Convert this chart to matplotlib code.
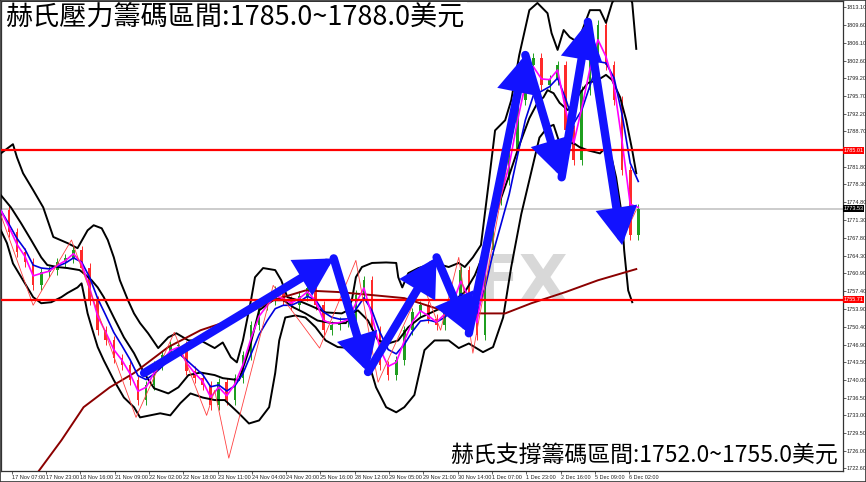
import matplotlib
matplotlib.use("Agg")
import matplotlib.pyplot as plt
import numpy as np
import pandas as pd
from matplotlib.transforms import blended_transform_factory

# ---------------- data ----------------
bars_per_candle = 4
closes = [1773.2, 1768.9, 1765.0, 1763.0, 1758.5, 1761.1, 1761.5, 1763.0, 1763.8, 1765.4,
          1761.9, 1755.6, 1749.7, 1747.7, 1744.2, 1742.8, 1739.9, 1736.0, 1738.9, 1742.8,
          1744.8, 1746.7, 1746.7, 1741.8, 1740.3, 1738.9, 1735.0, 1739.5, 1736.0, 1740.3,
          1744.8, 1750.7, 1754.6, 1755.6, 1757.5, 1755.6, 1754.6, 1756.4, 1757.9, 1754.6,
          1749.7, 1750.7, 1751.3, 1752.0, 1756.6, 1759.5, 1749.7, 1742.8, 1740.9, 1743.8,
          1749.7, 1753.2, 1754.6, 1752.0, 1750.7, 1753.6, 1756.0, 1761.5, 1754.6, 1748.7,
          1765.4, 1775.2, 1779.1, 1785.0, 1794.8, 1801.7, 1803.1, 1797.8, 1798.8, 1801.7,
          1789.0, 1783.1, 1796.8, 1804.7, 1809.6, 1801.7, 1794.8, 1781.1, 1768.3, 1773.5]

upper_x = [0, 6, 8, 11, 16, 21, 26, 33, 38, 43, 46, 50, 53, 56, 59, 63, 66, 69, 73, 78,
           83, 87, 93, 99, 106, 110, 114, 117, 120, 124, 126, 130, 136, 139, 142, 147, 153,
           161, 169, 172, 174, 176, 179, 184, 191, 196, 197, 199, 202, 207, 215, 222, 227,
           230, 234, 238, 242, 245, 250, 253, 257, 262, 266, 271, 273, 276, 279, 282, 286,
           292, 297, 300, 303, 308, 311, 313, 315]
upper_y = [1784.4, 1786.2, 1783.6, 1780.5, 1777.2, 1773.8, 1768.0, 1766.8, 1765.8, 1769.3,
           1770.3, 1769.7, 1767.4, 1764.0, 1759.5, 1755.6, 1753.0, 1751.1, 1749.1, 1746.2,
           1748.3, 1749.1, 1747.7, 1747.7, 1746.2, 1747.3, 1744.4, 1743.4, 1747.7, 1755.6,
           1760.1, 1761.9, 1761.5, 1759.5, 1756.2, 1755.6, 1754.6, 1753.2, 1753.0, 1753.6,
           1755.6, 1760.1, 1762.1, 1762.9, 1763.0, 1762.9, 1760.1, 1758.1, 1760.9, 1761.9,
           1762.9, 1762.1, 1762.9, 1762.1, 1764.0, 1766.4, 1779.1, 1788.9, 1790.9, 1794.8,
           1803.7, 1812.5, 1813.9, 1811.9, 1808.0, 1804.7, 1808.6, 1807.2, 1806.2, 1812.5,
           1812.5, 1810.0, 1813.9, 1817.4, 1816.4, 1813.9, 1804.9]

mid_x = [0, 5, 10, 15, 20, 23, 28, 33, 39, 41, 45, 48, 51, 56, 61, 66, 71, 76, 83, 88,
         93, 99, 106, 110, 118, 123, 128, 135, 140, 145, 151, 157, 164, 171, 174, 177, 182,
         187, 192, 197, 202, 208, 218, 225, 230, 235, 240, 245, 252, 257, 262, 266, 269,
         271, 274, 277, 281, 284, 287, 291, 296, 300, 303, 307, 310, 313, 315]
mid_y = [1776.2, 1773.8, 1770.7, 1767.4, 1764.0, 1762.5, 1762.1, 1761.9, 1761.5, 1760.9,
         1759.5, 1758.1, 1756.2, 1752.2, 1748.3, 1745.2, 1741.3, 1738.3, 1737.3, 1738.5,
         1740.9, 1741.4, 1740.9, 1740.3, 1739.9, 1745.8, 1753.6, 1755.6, 1755.6, 1754.2,
         1753.0, 1751.6, 1751.1, 1751.1, 1753.0, 1753.6, 1751.6, 1747.7, 1747.1, 1747.7,
         1750.3, 1752.2, 1754.0, 1755.6, 1757.2, 1760.5, 1765.4, 1772.3, 1780.1, 1786.0,
         1791.3, 1794.3, 1795.4, 1796.8, 1796.2, 1794.3, 1792.9, 1794.3, 1796.2, 1798.2,
         1798.8, 1799.8, 1798.8, 1795.4, 1790.9, 1785.0, 1780.5]

lower_x = [0, 3, 6, 11, 16, 20, 25, 30, 33, 38, 40, 41, 43, 45, 48, 51, 56, 61, 66, 69,
           74, 79, 84, 89, 94, 100, 106, 111, 118, 123, 128, 133, 136, 138, 141, 146, 151,
           156, 161, 167, 174, 179, 182, 186, 191, 196, 200, 205, 210, 215, 222, 227, 232,
           239, 244, 249, 253, 258, 264, 267, 271, 274, 277, 284, 287, 291, 297, 300, 303,
           305, 308, 309, 311, 313]
lower_y = [1769.3, 1766.8, 1762.8, 1759.5, 1756.2, 1755.0, 1755.2, 1756.2, 1757.0, 1758.1,
           1758.9, 1757.0, 1753.0, 1750.3, 1746.4, 1743.8, 1739.9, 1736.5, 1734.6, 1732.6,
           1733.0, 1733.4, 1733.0, 1735.4, 1737.3, 1736.5, 1736.0, 1736.0, 1733.4, 1731.4,
           1732.0, 1734.6, 1741.3, 1747.7, 1752.2, 1752.6, 1752.2, 1750.3, 1747.7, 1746.4,
           1746.2, 1745.8, 1743.8, 1738.5, 1734.6, 1733.6, 1734.6, 1737.0, 1745.8, 1747.7,
           1747.7, 1746.2, 1747.1, 1745.4, 1746.4, 1752.2, 1762.1, 1772.5, 1782.5, 1787.5,
           1789.5, 1790.0, 1786.4, 1786.4, 1785.6, 1785.0, 1784.4, 1785.6, 1783.1, 1779.7,
           1771.9, 1765.4, 1757.5, 1755.2]

ma200_x = [14, 19, 30, 41, 54, 66, 83, 99, 118, 135, 151, 167, 184, 200, 222, 239, 250,
           263, 280, 296, 315]
ma200_y = [1719.3, 1722.2, 1728.1, 1734.6, 1738.5, 1741.3, 1746.4, 1749.7, 1752.2, 1755.6,
           1757.5, 1757.2, 1756.6, 1756.0, 1753.2, 1753.0, 1753.0, 1755.0, 1757.2, 1759.5,
           1761.7]

zigzag_x = [0, 16, 35, 67, 86, 102, 106, 113, 135, 158, 176, 187, 209, 218, 227, 234,
            261, 278, 291, 308, 315]
zigzag_y = [1772.3, 1754.6, 1767.4, 1732.6, 1749.3, 1733.0, 1737.9, 1724.6, 1758.5, 1746.2,
            1763.4, 1739.5, 1758.9, 1749.7, 1764.0, 1745.2, 1804.1, 1779.1, 1810.0, 1767.4,
            1773.3]

arrow_x = [71, 165, 182, 216, 232, 260, 278, 291, 308]
arrow_y = [1741.3, 1763.8, 1741.5, 1764.0, 1749.1, 1803.7, 1779.7, 1810.2, 1766.4]

resist_price = 1785.01
support_price = 1755.71
last_price = 1773.53

x_labels = ["17 Nov 07:00", "17 Nov 23:00", "18 Nov 16:00", "21 Nov 09:00", "22 Nov 02:00",
            "22 Nov 18:00", "23 Nov 11:00", "24 Nov 04:00", "24 Nov 20:00", "25 Nov 16:00",
            "28 Nov 12:00", "29 Nov 05:00", "29 Nov 21:00", "30 Nov 14:00", "1 Dec 07:00",
            "1 Dec 23:00", "2 Dec 16:00", "5 Dec 09:00", "6 Dec 02:00"]
bars_per_label = 17
first_label_bar = 5.45

y_ticks = [1813.10, 1809.60, 1806.10, 1802.60, 1799.20, 1795.70, 1792.20, 1788.70,
           1781.80, 1778.30, 1774.80, 1771.30, 1767.80, 1764.30, 1760.90, 1757.40,
           1753.90, 1750.40, 1746.90, 1743.50, 1740.00, 1736.50, 1733.00, 1729.50,
           1726.00, 1722.60]

title_top = "赫氏壓力籌碼區間:1785.0~1788.0美元"
title_bottom = "赫氏支撐籌碼區間:1752.0~1755.0美元"

# ---------------- figure ----------------
cjk = ["Noto Sans CJK TC", "DejaVu Sans"]
fig = plt.figure(figsize=(8.66, 4.82), dpi=100)
ax = fig.add_axes([0.001, 0.023, 0.972, 0.975])
ax.set_xlim(0, 417.3)
ax.set_ylim(1722.1, 1814.3)

# watermark
ax.text(258, 1759.0, "FX", fontsize=46, fontweight="bold", color="#d8d8d8",
        ha="center", va="center", zorder=0.5, family="DejaVu Sans")

# horizontal levels
ax.axhline(last_price, color="#c8c8c8", lw=1.3, zorder=1)
ax.axhline(resist_price, color="#ff0000", lw=1.6, zorder=5)
ax.axhline(support_price, color="#ff0000", lw=1.6, zorder=5)

# candles
c = np.array(closes)
opens = c[:-1]
cls = c[1:]
cx = np.arange(1, len(c)) * bars_per_candle
up = cls >= opens
colors = np.where(up, "#1f9e1f", "#ff2a2a")
lo = np.minimum(opens, cls)
hi = np.maximum(opens, cls)
ax.vlines(cx, lo - 0.9, hi + 0.9, colors=colors, lw=0.7, zorder=2)
ax.bar(cx, np.maximum(hi - lo, 0.15), bottom=lo, width=1.3, color=colors, zorder=2,
       linewidth=0)

# moving averages from closes
allx = np.arange(len(c)) * bars_per_candle
fast = pd.Series(closes).ewm(span=2).mean()
slow = pd.Series(closes).ewm(span=4).mean()

# bands
ax.plot(upper_x, upper_y, color="black", lw=1.4, zorder=3)
ax.plot(mid_x, mid_y, color="black", lw=1.4, zorder=3)
ax.plot(lower_x, lower_y, color="black", lw=1.4, zorder=3)
ax.plot(ma200_x, ma200_y, color="#8b0000", lw=1.4, zorder=3)

ax.plot(allx, slow, color="#0000dd", lw=1.2, zorder=4)
ax.plot(allx, fast, color="#ff00ff", lw=1.2, zorder=4)
ax.plot(zigzag_x, zigzag_y, color="#ff4040", lw=0.6, zorder=4)

# blue arrows
for i in range(len(arrow_x) - 1):
    ax.annotate("", xy=(arrow_x[i + 1], arrow_y[i + 1]), xytext=(arrow_x[i], arrow_y[i]),
                arrowprops=dict(arrowstyle="-|>,head_length=0.9,head_width=0.5",
                                color="#1212ff", lw=6, shrinkA=0, shrinkB=0,
                                mutation_scale=20, joinstyle="miter"),
                zorder=6)

# axes styling
ax.yaxis.tick_right()
ax.set_yticks(y_ticks)
ax.set_yticklabels([f"{v:.2f}" for v in y_ticks])
ax.set_xticks(first_label_bar + bars_per_label * np.arange(len(x_labels)))
ax.set_xticklabels(x_labels)
for lab in ax.get_xticklabels():
    lab.set_ha("left")
ax.tick_params(axis="both", labelsize=4, length=2, width=0.5, pad=1, colors="#222222",
               labelfontfamily="Liberation Sans")
for s in ax.spines.values():
    s.set_linewidth(0.9)
    s.set_color("#333333")

trans = blended_transform_factory(ax.transAxes, ax.transData)
for val, fc in [(resist_price, "#ff0000"), (last_price, "#000000"), (support_price, "#ff0000")]:
    ax.text(1.001, val, f"{val:.2f}", transform=trans, fontsize=4, color="white",
            va="center", ha="left", family="Liberation Sans", zorder=10,
            bbox=dict(facecolor=fc, edgecolor="none", pad=0.6), clip_on=False)

# titles
ax.text(0.005, 0.994, title_top, transform=ax.transAxes, fontsize=19.5, family=cjk,
        va="top", ha="left", color="black", zorder=8,
        bbox=dict(facecolor="white", edgecolor="none", pad=1.5))
ax.text(0.995, 0.008, title_bottom, transform=ax.transAxes, fontsize=16.5, family=cjk,
        va="bottom", ha="right", color="black", zorder=8,
        bbox=dict(facecolor="white", edgecolor="none", pad=1.5))

fig.patches.append(plt.Rectangle((0, 0), 1, 1, transform=fig.transFigure, fill=False,
                                 edgecolor="#333333", lw=1.2))
fig.savefig("out.png", dpi=100)
